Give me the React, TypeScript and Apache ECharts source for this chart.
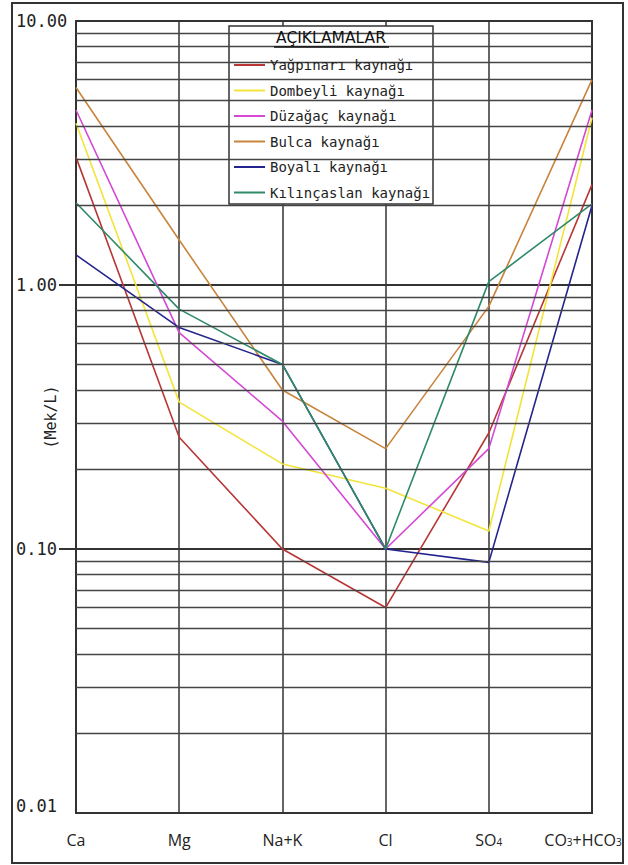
import React, { useEffect, useRef } from 'react';
import * as echarts from 'echarts';

const categories = ['Ca', 'Mg', 'Na+K', 'Cl', 'SO4', 'CO3+HCO3'];

const yagpinari = [3.05, 0.265, 0.1, 0.06, 0.275, 2.4];
const dombeyli = [4.1, 0.36, 0.21, 0.17, 0.117, 4.3];
const duzagac = [4.6, 0.66, 0.305, 0.1, 0.24, 4.6];
const bulca = [5.6, 1.48, 0.4, 0.24, 0.83, 6.0];
const boyali = [1.3, 0.69, 0.5, 0.1, 0.089, 2.0];
const kilincaslan = [2.05, 0.81, 0.5, 0.1, 1.03, 2.03];

const seriesNames = [
  'Yağpınarı kaynağı',
  'Dombeyli kaynağı',
  'Düzağaç kaynağı',
  'Bulca kaynağı',
  'Boyalı kaynağı',
  'Kılınçaslan kaynağı',
];
const seriesData = [yagpinari, dombeyli, duzagac, bulca, boyali, kilincaslan];
const seriesColors = ['#b83636', '#f2e43a', '#d448d4', '#c8843c', '#24248e', '#2f8a68'];

const minorGrid = [
  0.02, 0.03, 0.04, 0.05, 0.06, 0.07, 0.08, 0.09,
  0.2, 0.3, 0.4, 0.5, 0.6, 0.7, 0.8, 0.9,
  2, 3, 4, 5, 6, 7, 8, 9,
];
const tickedValues = [1, 0.1];
const legendTitle = 'AÇIKLAMALAR';
const yName = '(Mek/L)';

function catLabel(v: string, isLast: boolean) {
  const parts = v.split(/(\d)/).filter((p) => p.length > 0);
  const s = parts.map((p) => (/^\d$/.test(p) ? `{s|${p}}` : `{n|${p}}`)).join('');
  return isLast ? s + '{gap|}' : s;
}

export default function App() {
  const ref = useRef<HTMLDivElement>(null);
  useEffect(() => {
    const chart = echarts.init(ref.current!, null, { renderer: 'svg' });
    const option: any = {
      animation: false,
      backgroundColor: '#ffffff',
      grid: {
        left: 76,
        right: 36,
        top: 21,
        bottom: 52,
        show: true,
        borderColor: '#333',
        borderWidth: 2,
        containLabel: false,
        outerBoundsMode: 'none',
      },
      legend: {
        data: seriesNames,
        orient: 'vertical',
        left: 234,
        top: 58,
        padding: 0,
        itemWidth: 31,
        itemHeight: 2,
        itemGap: 11.5,
        icon: 'rect',
        z: 10,
        selectedMode: false,
        textStyle: { fontFamily: 'DejaVu Sans Mono', fontSize: 14, color: '#222' },
      },
      xAxis: {
        type: 'category',
        data: categories,
        boundaryGap: false,
        axisLine: { show: false },
        axisTick: { show: false },
        splitLine: { show: true, lineStyle: { color: '#333', width: 1.5 } },
        axisLabel: {
          interval: 0,
          margin: 19,
          formatter: (v: string, i: number) => catLabel(v, i === categories.length - 1),
          rich: {
            n: { fontFamily: 'Open Sans', fontSize: 16, color: '#222' },
            s: { fontFamily: 'Open Sans', fontSize: 10, color: '#222', verticalAlign: 'bottom', padding: [0, 0, 1, 0] },
            gap: { width: 18 },
          },
        },
      },
      yAxis: {
        type: 'log',
        logBase: 10,
        min: 0.01,
        max: 10,
        name: yName,
        nameLocation: 'middle',
        nameRotate: 90,
        nameGap: 18,
        nameMoveOverlap: false,
        nameTextStyle: { fontFamily: 'DejaVu Sans Mono', fontSize: 15, color: '#222' },
        axisLine: { show: false },
        axisTick: {
          show: true,
          length: 17,
          customValues: tickedValues,
          lineStyle: { color: '#333', width: 2 },
        },
        splitLine: { show: true, lineStyle: { color: '#333', width: 2 } },
        axisLabel: {
          align: 'left',
          margin: 60,
          formatter: (v: number) =>
            Math.abs(v - 0.01) < 1e-6 ? '{low|0.01}' : `{n|${v.toFixed(2)}}`,
          rich: {
            n: { fontFamily: 'DejaVu Sans Mono', fontSize: 17, color: '#222' },
            low: { fontFamily: 'DejaVu Sans Mono', fontSize: 17, color: '#222', padding: [0, 0, 14, 0] },
          },
        },
      },
      graphic: [
        {
          type: 'rect',
          shape: { x: 12, y: 3, width: 611, height: 860 },
          style: { fill: 'none', stroke: '#333', lineWidth: 2 },
          z: 0,
          silent: true,
        },
        {
          type: 'rect',
          shape: { x: 229, y: 26, width: 204, height: 178 },
          style: { fill: '#ffffff', stroke: '#333', lineWidth: 1.5 },
          z: 5,
          silent: true,
        },
        {
          type: 'text',
          x: 331,
          y: 38,
          style: {
            text: legendTitle,
            fontFamily: 'DejaVu Sans',
            fontSize: 15.5,
            fontWeight: 500,
            fill: '#111',
            align: 'center',
            verticalAlign: 'middle',
          },
          z: 11,
        },
        {
          type: 'line',
          shape: { x1: 274, y1: 47, x2: 389, y2: 47 },
          style: { stroke: '#111', lineWidth: 1.3 },
          z: 11,
        },
      ],
      series: [
        {
          type: 'line',
          name: '_grid',
          data: [],
          silent: true,
          z: 1,
          markLine: {
            silent: true,
            symbol: ['none', 'none'],
            label: { show: false },
            lineStyle: { color: '#444', width: 1.4, type: 'solid' },
            emphasis: { disabled: true },
            data: minorGrid.map((v) => ({ yAxis: v })),
          },
        },
        ...seriesNames.map((name, i) => ({
          type: 'line',
          name,
          data: seriesData[i],
          symbol: 'none',
          color: seriesColors[i],
          lineStyle: { color: seriesColors[i], width: 1.6 },
          z: 3,
        })),
      ],
    };
    chart.setOption(option);
    return () => chart.dispose();
  }, []);
  return (
    <div
      ref={ref}
      style={{ position: 'absolute', left: 0, top: 0, width: 628, height: 865, background: '#fff' }}
    />
  );
}
